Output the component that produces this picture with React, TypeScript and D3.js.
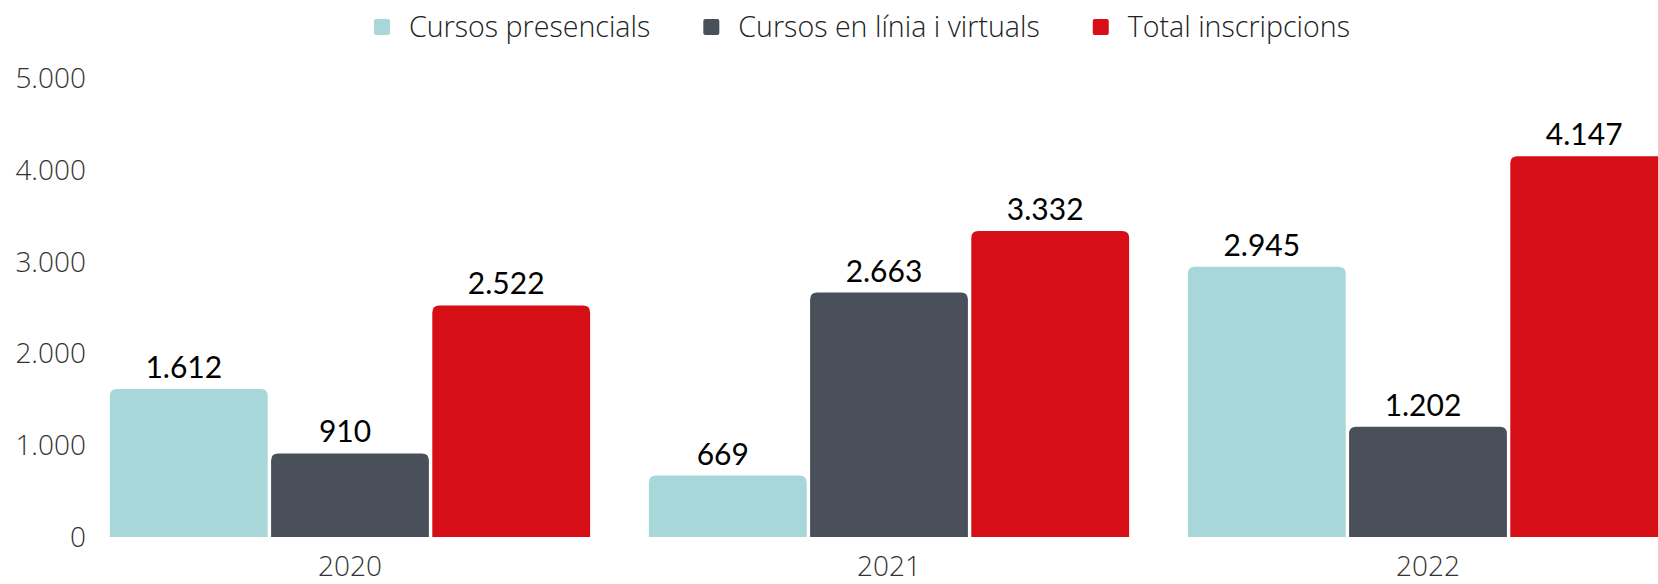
import React, { useEffect, useRef } from 'react';
import * as d3 from 'd3';

const years = ['2020', '2021', '2022'];
const seriesNames = ['Cursos presencials', 'Cursos en línia i virtuals', 'Total inscripcions'];
const presencials = [1612, 669, 2945];
const enLinia = [910, 2663, 1202];
const totalInscripcions = [2522, 3332, 4147];
const yTicks = [0, 1000, 2000, 3000, 4000, 5000];
const colors = ['#A8D7DA', '#4A5059', '#D60F16'];

const W = 1658, H = 584;

// path for a bar with only the top corners rounded
const topRounded = (x: number, y: number, w: number, h: number, r: number) => {
  const rr = Math.min(r, w / 2, h);
  return `M${x},${y + h}V${y + rr}Q${x},${y} ${x + rr},${y}H${x + w - rr}Q${x + w},${y} ${x + w},${y + rr}V${y + h}Z`;
};

const App = () => {
  const ref = useRef<SVGSVGElement>(null);

  useEffect(() => {
    const svg = d3.select(ref.current);
    svg.selectAll('*').remove();

    const values = [presencials, enLinia, totalInscripcions];
    const data = years.map((yr, i) => ({
      year: yr,
      vals: seriesNames.map((s, j) => ({ key: s, value: values[j][i], idx: j })),
    }));

    const locale = d3.formatLocale({ decimal: ',', thousands: '.', grouping: [3], currency: ['', '€'] });
    const fmt = locale.format(',d');

    const x0 = d3.scaleBand()
      .domain(years)
      .range([80.5, 1697.5])
      .paddingInner(0.109)
      .paddingOuter(0.0545);

    const x1 = d3.scaleBand()
      .domain(seriesNames)
      .range([0, x0.bandwidth()])
      .paddingInner(0.021);

    const y = d3.scaleLinear().domain([0, 5000]).range([537, 78]);

    const color = d3.scaleOrdinal<string>().domain(seriesNames).range(colors);

    // y tick labels
    svg.append('g')
      .selectAll('text')
      .data(yTicks)
      .join('text')
        .attr('x', 86)
        .attr('y', d => y(d))
        .attr('dy', '0.36em')
        .attr('text-anchor', 'end')
        .attr('font-family', '"Open Sans", sans-serif')
        .attr('font-weight', 300)
        .attr('font-size', 28)
        .attr('fill', '#333')
        .text(d => fmt(d));

    const groups = svg.append('g')
      .selectAll('g')
      .data(data)
      .join('g')
        .attr('transform', d => `translate(${x0(d.year)},0)`);

    groups.selectAll('path')
      .data(d => d.vals)
      .join('path')
        .attr('d', d => topRounded(x1(d.key)!, y(d.value), x1.bandwidth(), y(0) - y(d.value), 7))
        .attr('fill', d => color(d.key));

    groups.selectAll('text')
      .data(d => d.vals)
      .join('text')
        .attr('x', d => x1(d.key)! + x1.bandwidth() / 2 - 5)
        .attr('y', d => y(d.value) - 11)
        .attr('text-anchor', 'middle')
        .attr('font-family', 'Lato, sans-serif')
        .attr('font-size', 30)
        .attr('fill', '#000')
        .text(d => fmt(d.value));

    // year labels
    svg.append('g')
      .selectAll('text')
      .data(years)
      .join('text')
        .attr('x', d => x0(d)! + x0.bandwidth() / 2)
        .attr('y', 576)
        .attr('text-anchor', 'middle')
        .attr('font-family', '"Open Sans", sans-serif')
        .attr('font-weight', 300)
        .attr('font-size', 28)
        .attr('fill', '#333')
        .text(d => d);

    // legend
    const legend = svg.append('g');
    const items = legend.selectAll('g')
      .data(seriesNames)
      .join('g');
    items.append('rect')
      .attr('width', 16)
      .attr('height', 16)
      .attr('y', 19)
      .attr('rx', 2)
      .attr('fill', d => color(d));
    const labels = items.append('text')
      .attr('x', 35)
      .attr('y', 37)
      .attr('font-family', '"Open Sans", sans-serif')
      .attr('font-weight', 300)
      .attr('font-size', 28.6)
      .attr('fill', '#222')
      .text(d => d);

    const widths: number[] = [];
    labels.each(function () { widths.push((this as SVGTextElement).getComputedTextLength()); });
    const itemW = widths.map(w => 35 + w);
    const gap = 53;
    const total = d3.sum(itemW) + gap * (itemW.length - 1);
    let cx = 862 - total / 2;
    items.each(function (d, i) {
      d3.select(this).attr('transform', `translate(${cx},0)`);
      cx += itemW[i] + gap;
    });
  }, []);

  return (
    <svg ref={ref} width={W} height={H} style={{ position: 'absolute', left: 0, top: 0 }}></svg>
  );
};

export default App;
